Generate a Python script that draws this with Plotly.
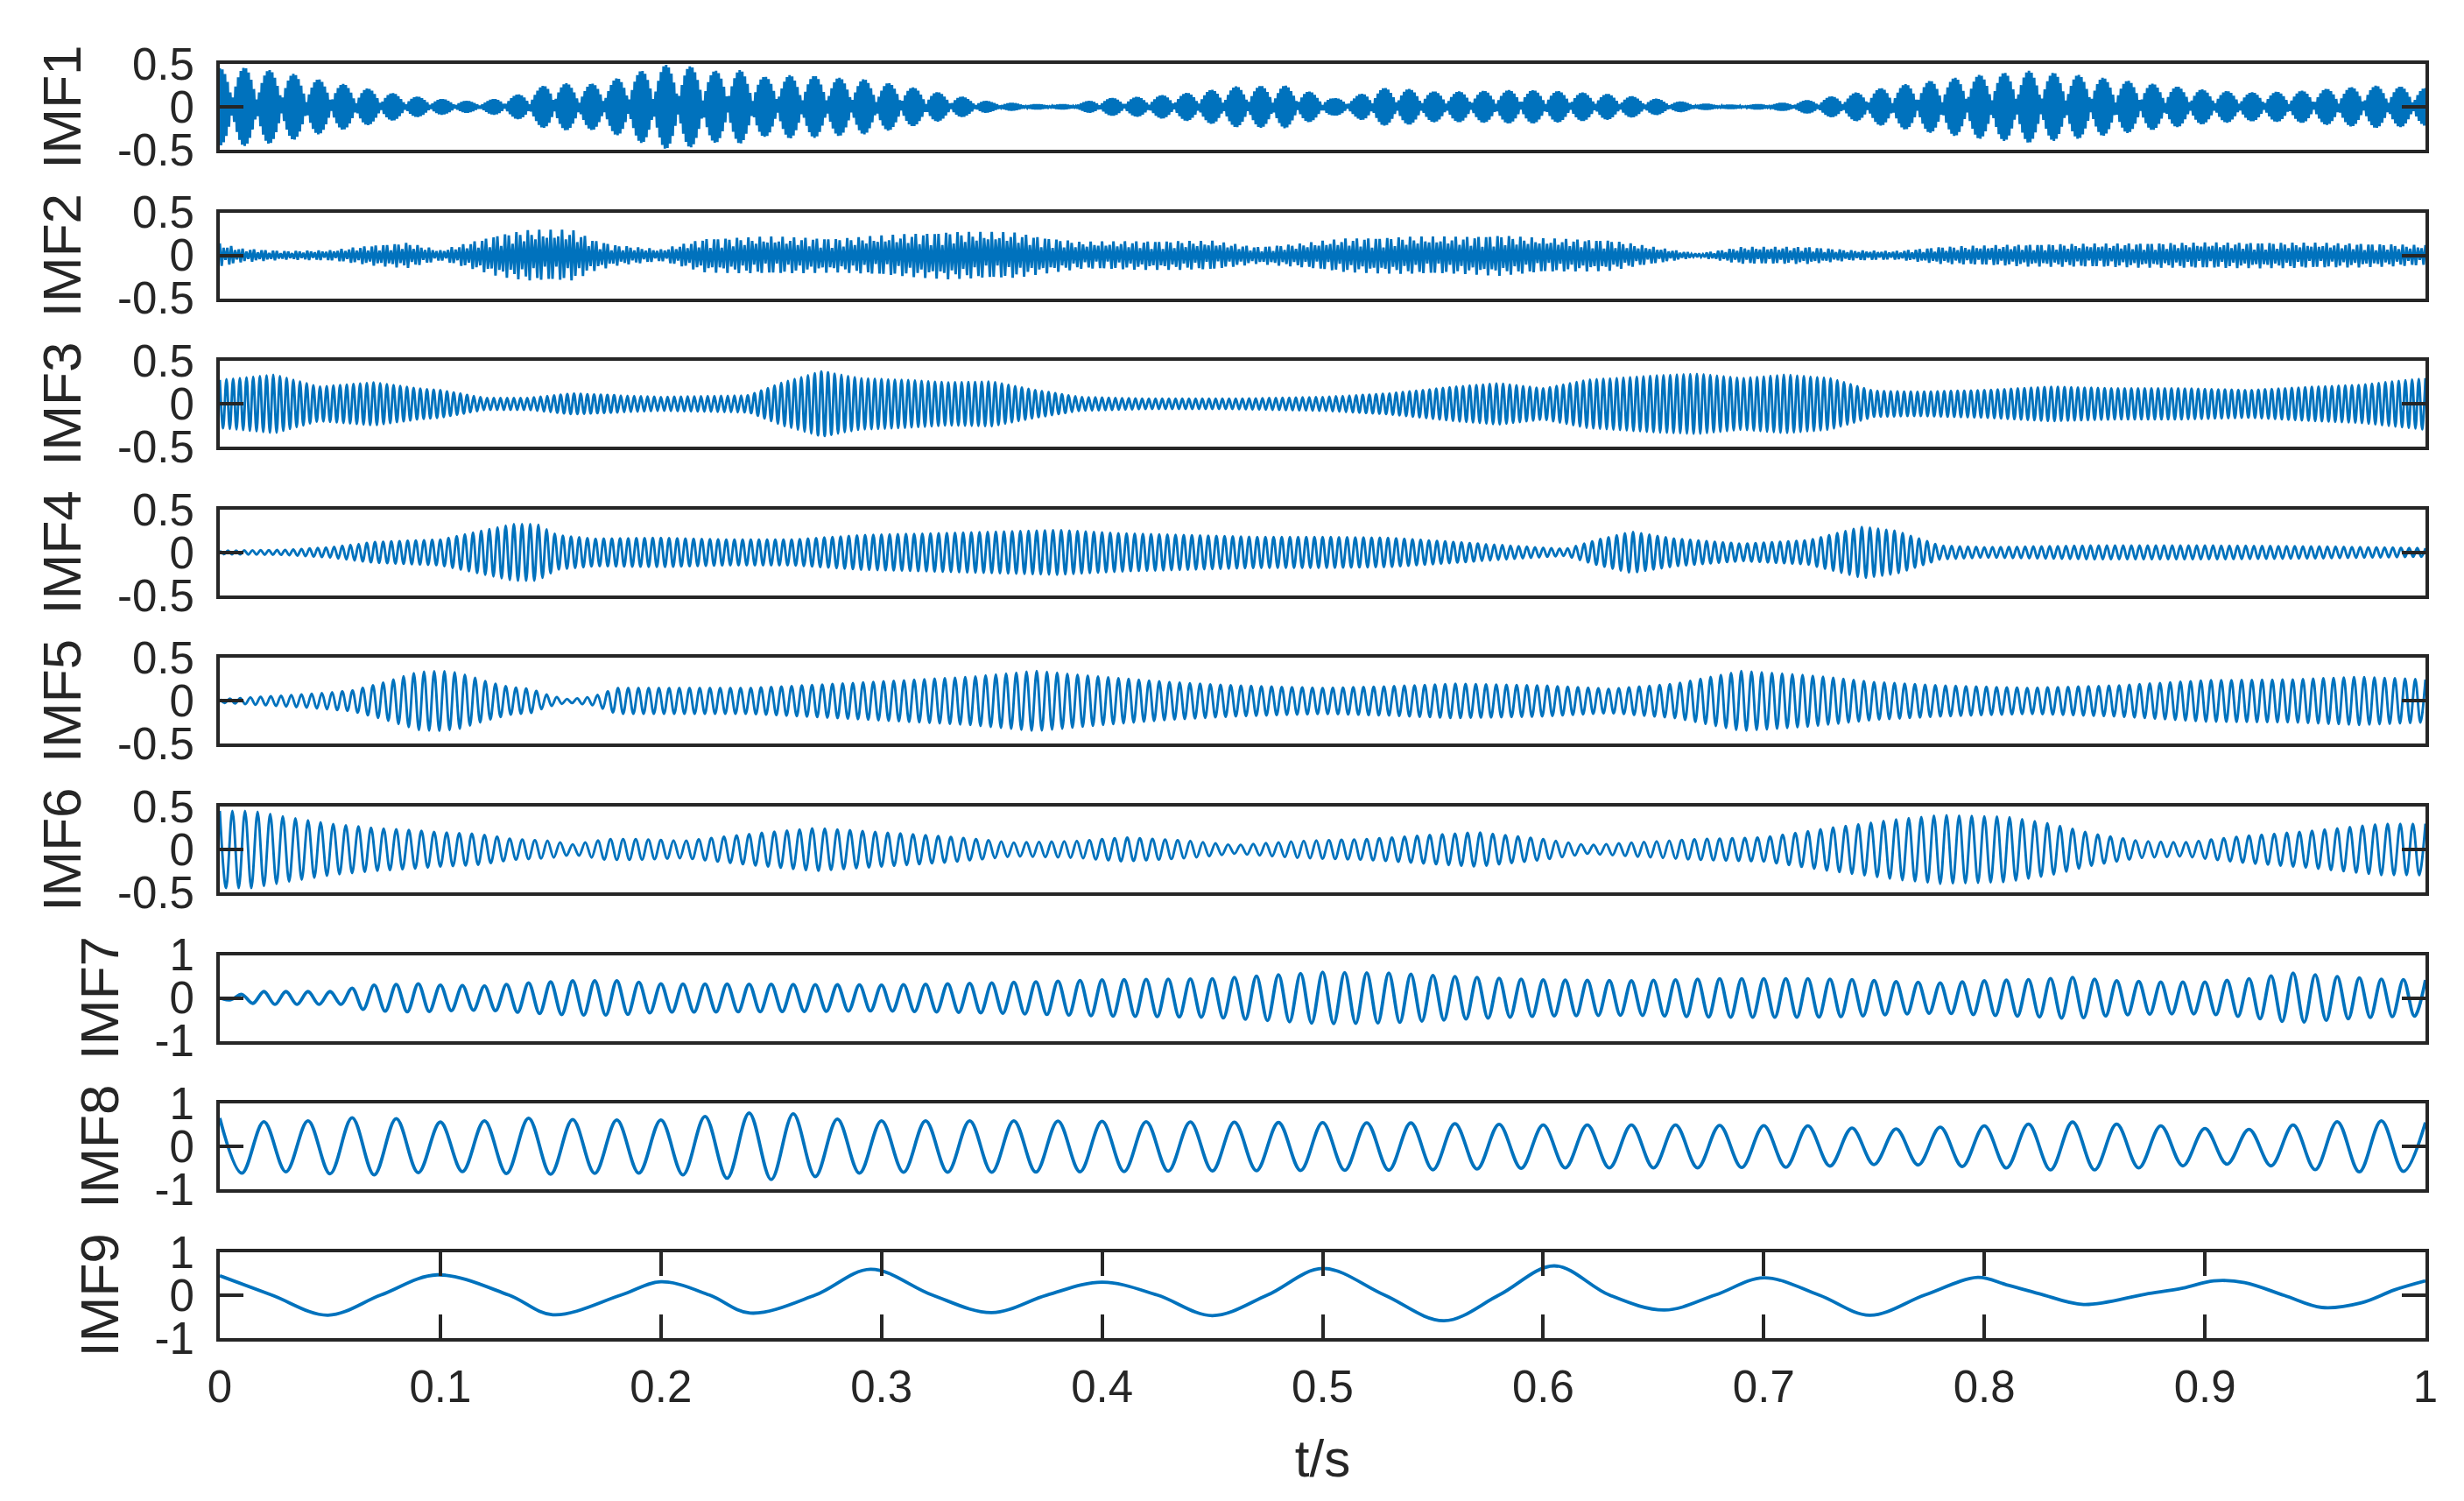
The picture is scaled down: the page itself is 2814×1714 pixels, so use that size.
import numpy as np
import plotly.graph_objects as go

# ---------------- data ----------------
IMF_NAMES = ["IMF1", "IMF2", "IMF3", "IMF4", "IMF5", "IMF6", "IMF7", "IMF8", "IMF9"]

X_TICKS = [0, 0.1, 0.2, 0.3, 0.4, 0.5, 0.6, 0.7, 0.8, 0.9, 1]
X_LABELS = ["0", "0.1", "0.2", "0.3", "0.4", "0.5", "0.6", "0.7", "0.8", "0.9", "1"]
Y_TICKS_SMALL = [-0.5, 0, 0.5]
Y_LABELS_SMALL = ["-0.5", "0", "0.5"]
Y_TICKS_BIG = [-1, 0, 1]
Y_LABELS_BIG = ["-1", "0", "1"]

# oscillations per second of each IMF (counted on the picture)
IMF_FREQ = [840, 580, 330, 270, 216, 175, 100, 50]
# beating inside IMF1 / IMF2 (bursts per second and residual level between bursts)
BURST_HZ = [89, 200]
BURST_FLOOR = [0.15, 0.4]

# envelopes (peak amplitude) of IMF1..IMF8
IMF1_T = [0, 0.0045, 0.016, 0.028, 0.039, 0.051, 0.062, 0.076, 0.089, 0.102, 0.117, 0.13, 0.14, 0.151,
          0.163, 0.176, 0.188, 0.201, 0.212, 0.224, 0.236, 0.247, 0.259, 0.271, 0.281, 0.293, 0.31,
          0.33, 0.35, 0.37, 0.386, 0.4, 0.42, 0.437, 0.45, 0.461, 0.483, 0.494, 0.505, 0.514,
          0.524, 0.535, 0.55, 0.565, 0.59, 0.61, 0.63, 0.65, 0.67, 0.69,
          0.71, 0.72, 0.74, 0.76, 0.78, 0.8, 0.82, 0.84, 0.86, 0.88, 0.9, 0.92, 0.94, 0.96, 0.98, 1.0]
IMF1_A = [0.45, 0.48, 0.44, 0.42, 0.35, 0.29, 0.24, 0.17, 0.12, 0.09, 0.06, 0.12, 0.17, 0.3,
          0.25, 0.3, 0.4, 0.49, 0.48, 0.42, 0.43, 0.35, 0.37, 0.36, 0.34, 0.32, 0.25,
          0.15, 0.06, 0.03, 0.03, 0.1, 0.12, 0.16, 0.2, 0.24, 0.25, 0.18, 0.1, 0.12,
          0.22, 0.22, 0.18, 0.18, 0.2, 0.18, 0.15, 0.1, 0.04, 0.02,
          0.05, 0.08, 0.16, 0.25, 0.32, 0.38, 0.42, 0.38, 0.32, 0.26, 0.2, 0.17, 0.18, 0.22, 0.25, 0.22]

IMF2_T = [0, 0.01, 0.03, 0.05, 0.07, 0.085, 0.1, 0.113, 0.127, 0.14, 0.16, 0.17, 0.18, 0.2, 0.22,
          0.25, 0.28, 0.31, 0.33, 0.36, 0.372, 0.39, 0.42, 0.45, 0.47, 0.49, 0.51, 0.54, 0.565,
          0.58, 0.6, 0.63, 0.65, 0.67, 0.69, 0.72, 0.74, 0.76, 0.78, 0.82, 0.86, 0.9, 0.94, 0.97, 1.0]
IMF2_A = [0.14, 0.08, 0.05, 0.06, 0.12, 0.15, 0.06, 0.15, 0.25, 0.3, 0.3, 0.18, 0.12, 0.07, 0.2,
          0.22, 0.2, 0.25, 0.28, 0.27, 0.22, 0.16, 0.17, 0.17, 0.1, 0.14, 0.2, 0.22, 0.22,
          0.24, 0.2, 0.18, 0.1, 0.02, 0.1, 0.1, 0.06, 0.05, 0.1, 0.13, 0.14, 0.15, 0.15, 0.14, 0.12]

IMF3_T = [0, 0.025, 0.045, 0.07, 0.09, 0.1, 0.12, 0.14, 0.16, 0.2, 0.24, 0.255, 0.273, 0.29, 0.31,
          0.33, 0.35, 0.37, 0.39, 0.42, 0.46, 0.5, 0.53, 0.56, 0.58, 0.6, 0.62, 0.65, 0.67, 0.69,
          0.71, 0.73, 0.75, 0.77, 0.8, 0.83, 0.86, 0.89, 0.92, 0.95, 0.97, 1.0]
IMF3_A = [0.28, 0.34, 0.2, 0.25, 0.18, 0.16, 0.07, 0.07, 0.12, 0.08, 0.1, 0.25, 0.38, 0.3, 0.28,
          0.25, 0.26, 0.16, 0.08, 0.06, 0.06, 0.08, 0.12, 0.2, 0.24, 0.18, 0.28, 0.33, 0.35, 0.3,
          0.34, 0.3, 0.15, 0.14, 0.16, 0.2, 0.18, 0.18, 0.16, 0.2, 0.22, 0.3]

IMF4_T = [0, 0.03, 0.05, 0.07, 0.09, 0.1, 0.113, 0.133, 0.144, 0.153, 0.17, 0.2, 0.23, 0.26, 0.29,
          0.32, 0.35, 0.38, 0.41, 0.44, 0.47, 0.5, 0.53, 0.56, 0.59, 0.61, 0.625, 0.64, 0.66, 0.69,
          0.72, 0.745, 0.76, 0.78, 0.8, 0.85, 0.9, 0.95, 1.0]
IMF4_A = [0.02, 0.03, 0.06, 0.12, 0.14, 0.15, 0.22, 0.33, 0.33, 0.2, 0.16, 0.17, 0.15, 0.15, 0.2,
          0.22, 0.24, 0.26, 0.22, 0.2, 0.18, 0.18, 0.17, 0.12, 0.07, 0.04, 0.15, 0.24, 0.16, 0.1,
          0.14, 0.3, 0.25, 0.08, 0.06, 0.08, 0.08, 0.07, 0.05]

IMF5_T = [0, 0.02, 0.04, 0.06, 0.075, 0.09, 0.1, 0.108, 0.122, 0.132, 0.141, 0.15, 0.158, 0.169,
          0.18, 0.2, 0.24, 0.28, 0.31, 0.34, 0.37, 0.4, 0.43, 0.46, 0.5, 0.53, 0.56, 0.6, 0.63,
          0.66, 0.69, 0.72, 0.75, 0.78, 0.82, 0.86, 0.9, 0.94, 0.97, 1.0]
IMF5_A = [0.02, 0.05, 0.08, 0.12, 0.22, 0.34, 0.35, 0.33, 0.22, 0.16, 0.14, 0.06, 0.02, 0.05,
          0.15, 0.15, 0.15, 0.2, 0.24, 0.28, 0.35, 0.28, 0.22, 0.18, 0.15, 0.17, 0.2, 0.18, 0.14,
          0.2, 0.35, 0.3, 0.22, 0.18, 0.15, 0.18, 0.24, 0.25, 0.28, 0.25]

IMF6_T = [0, 0.015, 0.03, 0.05, 0.07, 0.09, 0.1, 0.117, 0.133, 0.15, 0.16, 0.175, 0.19, 0.21, 0.24,
          0.27, 0.3, 0.33, 0.36, 0.39, 0.41, 0.44, 0.46, 0.49, 0.52, 0.55, 0.57, 0.6, 0.62, 0.64,
          0.67, 0.7, 0.73, 0.76, 0.78, 0.81, 0.83, 0.85, 0.87, 0.89, 0.92, 0.95, 0.98, 1.0]
IMF6_A = [0.45, 0.45, 0.38, 0.3, 0.25, 0.22, 0.2, 0.18, 0.12, 0.1, 0.06, 0.12, 0.12, 0.1, 0.18,
          0.25, 0.2, 0.15, 0.08, 0.1, 0.14, 0.1, 0.05, 0.1, 0.12, 0.17, 0.2, 0.12, 0.05, 0.08,
          0.12, 0.14, 0.25, 0.35, 0.4, 0.38, 0.3, 0.18, 0.1, 0.08, 0.16, 0.22, 0.3, 0.3]

IMF7_T = [0, 0.006, 0.012, 0.018, 0.04, 0.055, 0.06, 0.07, 0.09, 0.1, 0.12, 0.14, 0.16, 0.18, 0.2,
          0.25, 0.3, 0.35, 0.4, 0.45, 0.5, 0.53, 0.56, 0.6, 0.64, 0.68, 0.72, 0.74, 0.76, 0.78,
          0.8, 0.82, 0.84, 0.86, 0.88, 0.9, 0.92, 0.94, 0.96, 0.98, 1.0]
IMF7_A = [0.0, 0.05, 0.1, 0.15, 0.15, 0.15, 0.23, 0.3, 0.33, 0.3, 0.28, 0.35, 0.4, 0.4, 0.33,
          0.32, 0.3, 0.35, 0.42, 0.45, 0.6, 0.58, 0.5, 0.42, 0.4, 0.45, 0.45, 0.43, 0.38, 0.35,
          0.4, 0.43, 0.48, 0.4, 0.37, 0.37, 0.45, 0.58, 0.5, 0.44, 0.42]

IMF8_T = [0, 0.02, 0.04, 0.06, 0.08, 0.1, 0.12, 0.14, 0.16, 0.18, 0.2, 0.22, 0.24, 0.26, 0.28, 0.3,
          0.36, 0.42, 0.48, 0.54, 0.6, 0.66, 0.72, 0.74, 0.76, 0.78, 0.8, 0.82, 0.84, 0.86, 0.88,
          0.9, 0.92, 0.94, 0.96, 0.98, 1.0]
IMF8_A = [0.66, 0.58, 0.6, 0.67, 0.65, 0.57, 0.6, 0.66, 0.63, 0.62, 0.62, 0.7, 0.78, 0.76, 0.64,
          0.6, 0.6, 0.58, 0.56, 0.55, 0.5, 0.5, 0.48, 0.43, 0.41, 0.45, 0.48, 0.52, 0.57, 0.52,
          0.48, 0.42, 0.4, 0.5, 0.58, 0.6, 0.56]

# IMF9: turning points and crossings of the curve
IMF9_T = [0, 0.0235, 0.049, 0.073, 0.0986, 0.131, 0.151, 0.182, 0.20, 0.222, 0.2405, 0.27,
          0.295, 0.323, 0.35, 0.375, 0.40, 0.425, 0.45, 0.475, 0.50, 0.528, 0.555, 0.58,
          0.605, 0.63, 0.655, 0.678, 0.70, 0.725, 0.748, 0.773, 0.797, 0.81, 0.825, 0.845,
          0.873, 0.89, 0.904, 0.918, 0.936, 0.953, 0.971, 0.986, 1.0]
IMF9_V = [0.45, 0.0, -0.47, 0.0, 0.47, 0.0, -0.46, 0.0, 0.31, 0.0, -0.42, 0.0,
          0.6, 0.0, -0.41, 0.0, 0.3, 0.0, -0.48, 0.0, 0.62, 0.0, -0.6, 0.0,
          0.68, 0.0, -0.35, 0.0, 0.4, 0.0, -0.47, 0.0, 0.41, 0.24, 0.03, -0.22,
          0.02, 0.16, 0.33, 0.29, -0.01, -0.29, -0.18, 0.12, 0.33]

ENV_T = [IMF1_T, IMF2_T, IMF3_T, IMF4_T, IMF5_T, IMF6_T, IMF7_T, IMF8_T]
ENV_A = [IMF1_A, IMF2_A, IMF3_A, IMF4_A, IMF5_A, IMF6_A, IMF7_A, IMF8_A]


def turning_points(freq, env_t, env_a, k):
    n = int(round(2 * freq)) + 1
    tt = np.arange(n) / (2.0 * freq)
    tt = tt[tt <= 1.0]
    amp = np.interp(tt, env_t, env_a)
    if k < len(BURST_HZ):
        fl = BURST_FLOOR[k]
        amp = amp * (fl + (1 - fl) * np.abs(np.cos(np.pi * BURST_HZ[k] * tt)))
    sign = np.where(np.arange(len(tt)) % 2 == 0, 1.0, -1.0)
    return tt, sign * amp


# ---------------- figure ----------------
W, H = 2814, 1714
M_L, M_R, M_T, M_B = 243, 52, 65, 192
PH = H - M_T - M_B
PITCH = 169.6
PANEL_H = 98

LINE_COLOR = "#0072BD"
AX_COLOR = "#262626"
FONT = "Liberation Sans, Arial, Helvetica, sans-serif"

fig = go.Figure()
layout = {}
for i in range(9):
    top = min(1.0, 1 - (i * PITCH) / PH)
    bot = max(0.0, top - PANEL_H / PH)
    xa = "xaxis" if i == 0 else f"xaxis{i+1}"
    ya = "yaxis" if i == 0 else f"yaxis{i+1}"
    xr = "x" if i == 0 else f"x{i+1}"
    yr = "y" if i == 0 else f"y{i+1}"

    if i < 8:
        tt, vv = turning_points(IMF_FREQ[i], ENV_T[i], ENV_A[i], i)
        shape = "linear" if i < 2 else "spline"
    else:
        tt, vv = np.array(IMF9_T), np.array(IMF9_V)
        shape = "spline"
    fig.add_trace(go.Scatter(x=tt, y=vv, mode="lines", xaxis=xr, yaxis=yr,
                             line=dict(color=LINE_COLOR, width=3.8 if i >= 6 else 2.9,
                                       shape=shape, smoothing=1.0),
                             showlegend=False, hoverinfo="skip"))

    big = i >= 6
    layout[ya] = dict(
        domain=[bot, top], anchor=xr, range=[-1, 1] if big else [-0.5, 0.5],
        tickvals=Y_TICKS_BIG if big else Y_TICKS_SMALL,
        ticktext=Y_LABELS_BIG if big else Y_LABELS_SMALL,
        ticks="inside", ticklen=27, tickwidth=3.5, tickcolor=AX_COLOR,
        showline=True, linecolor=AX_COLOR, linewidth=4, mirror="ticks",
        showgrid=False, zeroline=False, ticklabelstandoff=15,
        tickfont=dict(family=FONT, size=51, color=AX_COLOR),
        title=dict(text=IMF_NAMES[i], standoff=22,
                   font=dict(family=FONT, size=62, color=AX_COLOR)),
        fixedrange=True,
    )
    xd = dict(domain=[0, 1], anchor=yr, range=[0, 1],
              showline=True, linecolor=AX_COLOR, linewidth=4,
              showgrid=False, zeroline=False, fixedrange=True)
    if i < 8:
        xd.update(mirror=True, ticks="", showticklabels=False)
    else:
        xd.update(mirror="ticks", ticks="inside", ticklen=27, tickwidth=3.5,
                  tickcolor=AX_COLOR, tickvals=X_TICKS, ticktext=X_LABELS,
                  ticklabelstandoff=8,
                  tickfont=dict(family=FONT, size=51, color=AX_COLOR),
                  title=dict(text="t/s", standoff=34,
                             font=dict(family=FONT, size=60, color=AX_COLOR)))
    layout[xa] = xd

fig.update_layout(
    width=W, height=H, autosize=False,
    margin=dict(l=M_L, r=M_R, t=M_T, b=M_B),
    paper_bgcolor="white", plot_bgcolor="white",
    font=dict(family=FONT, color=AX_COLOR),
    **layout,
)

fig.write_html("out.html", config={"displayModeBar": False})
